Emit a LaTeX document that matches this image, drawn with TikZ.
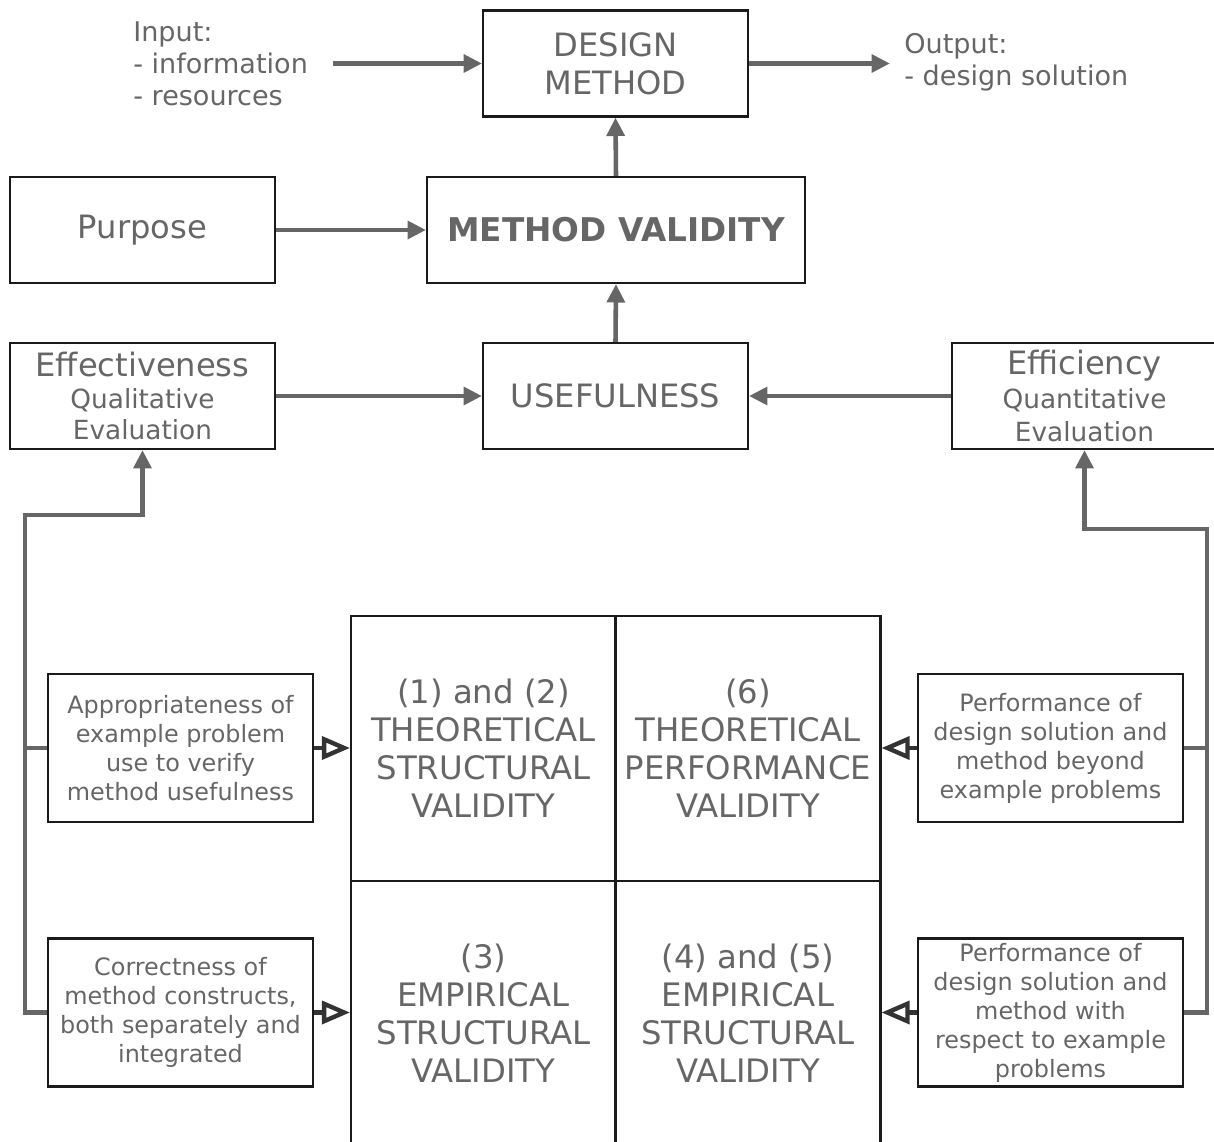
\documentclass[tikz,border=0pt]{standalone}
\usepackage{fontspec}
\setmainfont{DejaVu Sans}
\usetikzlibrary{arrows.meta}
\definecolor{txt}{HTML}{666666}
\definecolor{wire}{HTML}{666666}
\definecolor{edge}{HTML}{1A1A1A}
\definecolor{dark}{HTML}{333333}

\begin{document}
\begin{tikzpicture}[x=0.02cm,y=-0.02cm,
  box/.style={draw=edge,line width=1.2pt,text=txt,align=center,minimum width=5.3cm,minimum height=2.12cm,inner sep=0pt},
  big/.style={font=\fontsize{18.3}{21.6}\selectfont},
  small/.style={box,minimum height=2.96cm,font=\fontsize{13.6}{16.5}\selectfont},
  cell/.style={box,minimum height=5.3cm,font=\fontsize{18.4}{21.6}\selectfont},
  plain/.style={text=txt,align=left,anchor=west,inner sep=0pt,font=\fontsize{15.4}{18.2}\selectfont},
  stub/.style={draw=wire,line width=2.6pt},
  conn/.style={stub,-{Triangle[length=10.5pt,width=10pt]}},
  hollow/.style={draw=dark,line width=2.5pt,-{Triangle[open,length=16pt,width=13pt]}}]
\useasboundingbox (0,0) rectangle (1214,1142);

\node[box,big] (dm) at (615.5,63.5) {DESIGN\\METHOD};
\node[plain] (inp) at (133,63.5) {Input:\\- information\\- resources};
\node[plain] (outp) at (904,62) {Output:\\- design solution};
\node[box,big] (pur) at (142.5,230) {Purpose};
\node[box,big,minimum width=7.56cm] (mv) at (616,230) {\fontsize{18.6}{21.6}\selectfont\bfseries METHOD VALIDITY};
\node[box,font=\fontsize{15}{18}\selectfont] (eff) at (142.5,396) {{\fontsize{18.3}{20}\selectfont Effectiveness}\\Qualitative\\Evaluation};
\node[box,big] (us) at (615.5,396) {USEFULNESS};
\node[box,font=\fontsize{15}{19}\selectfont] (effi) at (1084.5,396) {{\fontsize{18.3}{20}\selectfont Efficiency}\\Quantitative\\Evaluation};

\node[cell] (c1) at (483.5,748.5) {(1) and (2)\\THEORETICAL\\STRUCTURAL\\VALIDITY};
\node[cell] (c2) at (748,748.5) {(6)\\THEORETICAL\\PERFORMANCE\\VALIDITY};
\node[cell] (c3) at (483.5,1013.5) {(3)\\EMPIRICAL\\STRUCTURAL\\VALIDITY};
\node[cell] (c4) at (748,1013.5) {(4) and (5)\\EMPIRICAL\\STRUCTURAL\\VALIDITY};

\node[small] (app) at (180.5,748) {Appropriateness of\\example problem\\use to verify\\method usefulness};
\node[small] (cor) at (180.5,1012.5) {Correctness of\\method constructs,\\both separately and\\integrated};
\node[small] (per1) at (1050.5,748) {Performance of\\design solution and\\method beyond\\example problems};
\node[small] (per2) at (1050.5,1012.5) {Performance of\\design solution and\\method with\\respect to example\\problems};

\draw[conn,shorten <=14pt] (inp.east) -- (dm.west);
\draw[conn,shorten >=8pt] (dm.east) -- (dm.east -| outp.west);
\draw[conn] (mv.north) -- (dm.south);
\draw[conn] (pur.east) -- (mv.west);
\draw[conn] (us.north) -- (mv.south);
\draw[conn] (eff.east) -- (us.west);
\draw[conn] (effi.west) -- (us.east);

\coordinate (lbus) at (25,515);
\coordinate (rbus) at (1207,529);
\draw[conn] (cor.west) -| (lbus) -| (eff.south);
\draw[stub] (app.west) -- (app.west -| lbus);
\draw[conn] (per2.east) -| (rbus) -| (effi.south);
\draw[stub] (per1.east) -- (per1.east -| rbus);

\draw[hollow] (app.east) -- (app.east -| c1.west);
\draw[hollow] (cor.east) -- (cor.east -| c3.west);
\draw[hollow] (per1.west) -- (per1.west -| c2.east);
\draw[hollow] (per2.west) -- (per2.west -| c4.east);
\end{tikzpicture}
\end{document}
